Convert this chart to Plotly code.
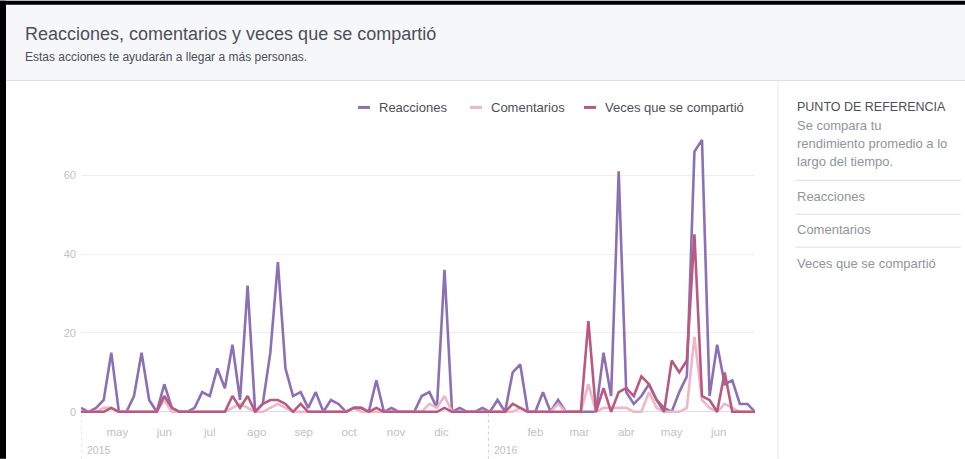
import pandas as pd
import plotly.graph_objects as go

# ---------------- data ----------------
start_date = "2015-04-07"
n_points = 90
dates = pd.date_range(start_date, periods=n_points, freq="5D")

reacciones = [1, 0, 1, 3, 15, 0, 0, 4, 15, 3, 0, 7, 1, 0, 0, 1, 5, 4, 11, 6,
              17, 3, 32, 0, 2, 15, 38, 11, 4, 5, 1, 5, 0, 3, 2, 0, 1, 1, 0, 8,
              0, 1, 0, 0, 0, 4, 5, 1, 36, 0, 1, 0, 0, 1, 0, 3, 0, 10, 12, 0,
              0, 5, 0, 3, 0, 0, 0, 0, 0, 15, 4, 61, 5, 2, 4, 7, 3, 1, 0, 5,
              9, 66, 69, 4, 17, 7, 8, 2, 2, 0]
comentarios = [0, 0, 0, 1, 1, 0, 0, 0, 0, 0, 0, 3, 0, 0, 0, 0, 0, 0, 0, 0,
               1, 2, 1, 0, 0, 1, 2, 1, 0, 0, 0, 0, 0, 0, 0, 0, 1, 0, 0, 0,
               0, 0, 0, 0, 0, 0, 2, 1, 4, 0, 0, 0, 0, 0, 0, 0, 0, 0, 1, 0,
               0, 0, 0, 2, 0, 0, 0, 7, 0, 1, 1, 1, 1, 0, 0, 5, 1, 0, 0, 0,
               1, 19, 3, 1, 0, 2, 1, 0, 0, 0]
compartido = [0, 0, 0, 0, 1, 0, 0, 0, 0, 0, 0, 4, 1, 0, 0, 0, 0, 0, 0, 0,
              4, 1, 4, 0, 2, 3, 3, 2, 0, 2, 0, 0, 0, 0, 0, 0, 1, 1, 0, 1,
              0, 0, 0, 0, 0, 0, 0, 0, 1, 0, 0, 0, 0, 0, 0, 0, 0, 2, 1, 0,
              0, 0, 0, 0, 0, 0, 0, 23, 0, 6, 0, 5, 6, 4, 9, 7, 3, 0, 13, 10,
              13, 45, 4, 3, 0, 10, 0, 0, 0, 0]

series_names = ["Reacciones", "Comentarios", "Veces que se compartió"]
series_values = [reacciones, comentarios, compartido]
series_colors = ["#8d70b4", "#ecb8c9", "#b9597f"]

month_ticks = ["2015-05-01", "2015-06-01", "2015-07-01", "2015-08-01", "2015-09-01",
               "2015-10-01", "2015-11-01", "2015-12-01", "2016-02-01", "2016-03-01",
               "2016-04-01", "2016-05-01", "2016-06-01"]
month_labels = ["may", "jun", "jul", "ago", "sep", "oct", "nov", "dic",
                "feb", "mar", "abr", "may", "jun"]
year_starts = ["2015-04-07", "2016-01-01"]
year_labels = ["2015", "2016"]
y_ticks = [0, 20, 40, 60]

title = "Reacciones, comentarios y veces que se compartió"
subtitle = "Estas acciones te ayudarán a llegar a más personas."
panel_head = "PUNTO DE REFERENCIA"
panel_desc = ["Se compara tu", "rendimiento promedio a lo", "largo del tiempo."]

# ---------------- geometry ----------------
WIDTH, HEIGHT = 965, 459
L, R = 81, 755
TOP, BOT = 127.6, 413.2
PW, PH = R - L, BOT - TOP
FONT = "Liberation Sans, Arial, sans-serif"


def fx(x):
    return (x - L) / PW


def fy(y):
    return (BOT - y) / PH


fig = go.Figure()
for name, vals, col in zip(series_names, series_values, series_colors):
    fig.add_trace(go.Scatter(x=dates, y=vals, mode="lines", name=name,
                             line=dict(color=col, width=2.6), showlegend=False,
                             hoverinfo="skip"))

shapes = []
annotations = []

# header background
shapes.append(dict(type="rect", xref="paper", yref="paper", x0=fx(0), x1=fx(WIDTH),
                   y0=fy(80), y1=fy(0), fillcolor="#f6f7f9", line=dict(width=0), layer="below"))
shapes.append(dict(type="line", xref="paper", yref="paper", x0=fx(0), x1=fx(WIDTH),
                   y0=fy(80), y1=fy(80), line=dict(color="#dddfe2", width=1)))
# right panel divider
shapes.append(dict(type="line", xref="paper", yref="paper", x0=fx(778), x1=fx(778),
                   y0=fy(80), y1=fy(HEIGHT), line=dict(color="#e5e7eb", width=1)))
# panel separators
for yy in [180, 214, 247]:
    shapes.append(dict(type="line", xref="paper", yref="paper", x0=fx(795), x1=fx(961),
                       y0=fy(yy), y1=fy(yy), line=dict(color="#dddfe2", width=1)))
# black frame
shapes.append(dict(type="rect", xref="paper", yref="paper", x0=fx(0), x1=fx(6),
                   y0=fy(HEIGHT), y1=fy(0), fillcolor="black", line=dict(width=0)))
shapes.append(dict(type="rect", xref="paper", yref="paper", x0=fx(0), x1=fx(WIDTH),
                   y0=fy(4), y1=fy(0), fillcolor="black", line=dict(width=0)))

# year dashed lines
for ys in year_starts:
    shapes.append(dict(type="line", xref="x", yref="paper", x0=ys, x1=ys,
                       y0=fy(HEIGHT), y1=fy(BOT), line=dict(color="#ccd0d5", width=1, dash="dot")))

# legend (manual)
leg_x = [358, 470, 584]
for lx, name, col in zip(leg_x, series_names, series_colors):
    shapes.append(dict(type="line", xref="paper", yref="paper", x0=fx(lx), x1=fx(lx + 12),
                       y0=fy(107), y1=fy(107), line=dict(color=col, width=3)))
    annotations.append(dict(xref="paper", yref="paper", x=fx(lx + 19), y=fy(107),
                            text=name, showarrow=False, xanchor="left", yanchor="middle",
                            font=dict(family=FONT, size=13, color="#4b4f56")))

# header texts
annotations.append(dict(xref="paper", yref="paper", x=fx(23), y=fy(33), text=title,
                        showarrow=False, xanchor="left", yanchor="middle",
                        font=dict(family=FONT, size=18, color="#4b4f56")))
annotations.append(dict(xref="paper", yref="paper", x=fx(23), y=fy(56), text=subtitle,
                        showarrow=False, xanchor="left", yanchor="middle",
                        font=dict(family=FONT, size=12, color="#4b4f56")))

# right panel texts
annotations.append(dict(xref="paper", yref="paper", x=fx(795), y=fy(107), text=panel_head,
                        showarrow=False, xanchor="left", yanchor="middle",
                        font=dict(family=FONT, size=12.5, color="#4b4f56")))
for i, t in enumerate(panel_desc):
    annotations.append(dict(xref="paper", yref="paper", x=fx(795), y=fy(125 + 18 * i), text=t,
                            showarrow=False, xanchor="left", yanchor="middle",
                            font=dict(family=FONT, size=13, color="#90949c")))
for yy, name in zip([196, 229, 263], series_names):
    annotations.append(dict(xref="paper", yref="paper", x=fx(795), y=fy(yy), text=name,
                            showarrow=False, xanchor="left", yanchor="middle",
                            font=dict(family=FONT, size=13, color="#90949c")))

# year labels
for ys, yl in zip(year_starts, year_labels):
    annotations.append(dict(xref="x", yref="paper", x=ys, y=fy(450), text=yl,
                            showarrow=False, xanchor="left", yanchor="middle", xshift=4,
                            font=dict(family=FONT, size=10.5, color="#bec2c9")))

fig.update_layout(
    width=WIDTH, height=HEIGHT,
    margin=dict(l=L, r=WIDTH - R, t=TOP, b=HEIGHT - BOT),
    paper_bgcolor="white", plot_bgcolor="white",
    shapes=shapes, annotations=annotations,
    showlegend=False,
    hovermode=False,
    font=dict(family=FONT),
    xaxis=dict(type="date", range=[dates[0], dates[-1]], tickvals=month_ticks,
               ticktext=month_labels, showgrid=False, zeroline=False, showline=False,
               ticks="", ticklabelstandoff=10,
               tickfont=dict(family=FONT, size=11.5, color="#bec2c9")),
    yaxis=dict(range=[-0.3, 72], tickvals=y_ticks, showgrid=True, gridcolor="#eceef1",
               gridwidth=1, zeroline=True, zerolinecolor="#dddfe2", zerolinewidth=1,
               showline=False, ticks="", ticklabelstandoff=4,
               tickfont=dict(family=FONT, size=11, color="#bec2c9")),
)

fig.write_html("out.html", config={"displayModeBar": False},
               post_script="document.body.style.margin='0px';document.body.style.overflow='hidden';")
